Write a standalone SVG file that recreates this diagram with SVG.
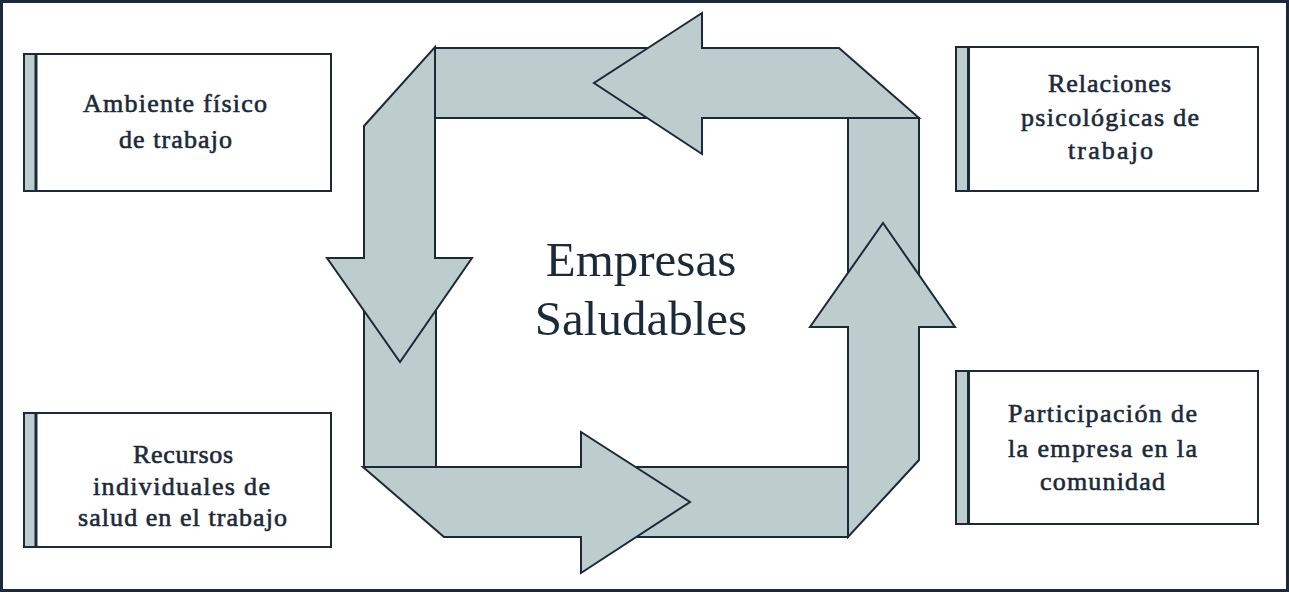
<svg xmlns="http://www.w3.org/2000/svg" width="1289" height="592" viewBox="0 0 1289 592">
<style>
.frame{fill:#ffffff;stroke:#1b2a3a;stroke-width:3}
.box{fill:#ffffff;stroke:#1b2a3a;stroke-width:2}
.bar{fill:#bdcccc;stroke:#1b2a3a;stroke-width:2}
.div{stroke:#1b2a3a;stroke-width:3}
.arr{fill:#bdcccc;stroke:#1b2a3a;stroke-width:2;stroke-linejoin:miter}
.lbl{font-family:'Liberation Serif','DejaVu Serif','Noto Serif',serif;font-size:26px;fill:#1b2a3a;stroke:#1b2a3a;stroke-width:0.6;text-anchor:middle}
.title{font-family:'Liberation Serif','DejaVu Serif','Noto Serif',serif;font-size:49px;fill:#1b2a3a;text-anchor:middle}
</style>
<rect class="frame" x="1.5" y="1.5" width="1286" height="589"/>

<g id="connectors">
  <rect class="arr" x="435" y="48" width="230" height="70"/>
  <polygon class="arr" points="839,48 702,48 702,13 594,83 702,154 702,118 919,118"/>
  <rect class="arr" x="848" y="118" width="71" height="190"/>
  <polygon class="arr" points="848,537 848,327 810,327 883,223 955,327 919,327 919,460"/>
  <rect class="arr" x="630" y="467" width="218" height="70"/>
  <polygon class="arr" points="363,467 581,467 581,432 690,502 581,573 581,537 444,537"/>
  <rect class="arr" x="364" y="290" width="72" height="177"/>
  <polygon class="arr" points="435,47 435,258 472,258 400,362 327,258 364,258 364,126"/>
</g>

<g id="center">
  <text class="title" x="641" y="276">Empresas</text>
  <text class="title" x="641" y="335">Saludables</text>
</g>

<g id="node-ambiente">
  <rect class="box" x="24" y="54" width="307" height="137"/>
  <rect class="bar" x="24" y="54" width="12" height="137"/>
  <line class="div" x1="36" y1="54" x2="36" y2="191"/>
  <text class="lbl" x="175" y="112" textLength="184" lengthAdjust="spacing">Ambiente físico</text>
  <text class="lbl" x="175.5" y="148" textLength="113" lengthAdjust="spacing">de trabajo</text>
</g>

<g id="node-relaciones">
  <rect class="box" x="956" y="47" width="302" height="144"/>
  <rect class="bar" x="956" y="47" width="12" height="144"/>
  <line class="div" x1="968.5" y1="47" x2="968.5" y2="191"/>
  <text class="lbl" x="1109.5" y="92" textLength="123" lengthAdjust="spacing">Relaciones</text>
  <text class="lbl" x="1110" y="126" textLength="178" lengthAdjust="spacing">psicológicas  de</text>
  <text class="lbl" x="1110.5" y="159" textLength="85" lengthAdjust="spacing">trabajo</text>
</g>

<g id="node-recursos">
  <rect class="box" x="24" y="413" width="307" height="134"/>
  <rect class="bar" x="24" y="413" width="12" height="134"/>
  <line class="div" x1="36" y1="413" x2="36" y2="547"/>
  <text class="lbl" x="183" y="463" textLength="100" lengthAdjust="spacing">Recursos</text>
  <text class="lbl" x="181.5" y="495" textLength="177" lengthAdjust="spacing">individuales  de</text>
  <text class="lbl" x="182.5" y="526" textLength="209" lengthAdjust="spacing">salud en el trabajo</text>
</g>

<g id="node-participacion">
  <rect class="box" x="956" y="371" width="302" height="153"/>
  <rect class="bar" x="956" y="371" width="12" height="153"/>
  <line class="div" x1="968.5" y1="371" x2="968.5" y2="524"/>
  <text class="lbl" x="1102.5" y="422" textLength="189" lengthAdjust="spacing">Participación  de</text>
  <text class="lbl" x="1102.5" y="457" textLength="189" lengthAdjust="spacing">la empresa  en la</text>
  <text class="lbl" x="1102.5" y="490" textLength="125" lengthAdjust="spacing">comunidad</text>
</g>
</svg>
